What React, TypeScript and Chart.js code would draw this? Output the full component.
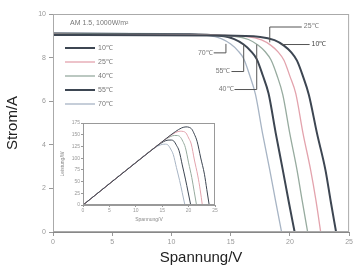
import React, { useEffect, useRef } from "react";
import { Chart, registerables } from "chart.js";
Chart.register(...registerables);

// ---------- data ----------
const tempLabels = ["10℃", "25℃", "40℃", "55℃", "70℃"];
const colors = ["#3d4652", "#e3a3ad", "#97ab9f", "#3d4652", "#a7b4c4"];
const widths = [2, 1.3, 1.3, 2, 1.3];

const v10 = [0, 14, 17.5, 18.7, 19.5, 20.1, 20.6, 21.1, 21.6, 22.3, 23.0, 23.45, 23.9];
const i10 = [9.04, 9.01, 8.95, 8.8, 8.55, 8.25, 7.86, 7.15, 6.3, 4.5, 2.85, 1.4, 0];
const p10 = [0, 126.1, 156.6, 164.6, 166.7, 165.8, 161.9, 150.9, 136.1, 100.4, 65.6, 32.8, 0];

const v25 = [0, 13, 16.4, 17.6, 18.4, 19.0, 19.5, 20.0, 20.5, 21.1, 21.75, 22.2, 22.6];
const i25 = [9.06, 9.03, 8.96, 8.81, 8.56, 8.26, 7.88, 7.15, 6.35, 4.55, 2.85, 1.45, 0];
const p25 = [0, 117.4, 146.9, 155.1, 157.5, 156.9, 153.7, 143.0, 130.2, 96.0, 62.0, 32.2, 0];

const v40 = [0, 12, 15.3, 16.5, 17.3, 17.9, 18.4, 18.9, 19.4, 20.0, 20.6, 21.05, 21.5];
const i40 = [9.08, 9.05, 8.98, 8.83, 8.58, 8.28, 7.9, 7.2, 6.3, 4.5, 2.85, 1.4, 0];
const p40 = [0, 108.6, 137.4, 145.7, 148.4, 148.2, 145.4, 136.1, 122.2, 90.0, 58.7, 29.5, 0];

const v55 = [0, 11, 14.1, 15.3, 16.1, 16.7, 17.2, 17.7, 18.2, 18.8, 19.4, 19.9, 20.4];
const i55 = [9.1, 9.07, 9.0, 8.85, 8.6, 8.3, 7.93, 7.2, 6.35, 4.55, 2.85, 1.4, 0];
const p55 = [0, 99.8, 126.9, 135.4, 138.5, 138.6, 136.4, 127.4, 115.6, 85.5, 55.3, 27.9, 0];

const v70 = [0, 10, 13, 14.2, 15, 15.6, 16.1, 16.6, 17.1, 17.7, 18.3, 18.8, 19.3];
const i70 = [9.12, 9.09, 9.02, 8.87, 8.62, 8.32, 7.95, 7.2, 6.3, 4.5, 2.85, 1.4, 0];
const p70 = [0, 90.9, 117.3, 126.0, 129.3, 129.8, 128.0, 119.5, 107.7, 79.7, 52.2, 26.3, 0];

const xTicks = [0, 5, 10, 15, 20, 25];
const yTicks = [0, 2, 4, 6, 8, 10];
const insetXTicks = [0, 5, 10, 15, 20, 25];
const insetYTicks = [0, 25, 50, 75, 100, 125, 150, 175];

// MPP-label annotations: [label, V, I, side]
const markLabels = ["70℃", "55℃", "40℃", "25℃", "10℃"];
const markV = [14.6, 16.1, 17.2, 18.3, 19.3];
const markI = [8.63, 8.6, 8.6, 8.7, 8.6];
const headerText = "AM 1.5, 1000W/m²";

const seriesV = [v10, v25, v40, v55, v70];
const seriesI = [i10, i25, i40, i55, i70];
const seriesP = [p10, p25, p40, p55, p70];

const FONT = "'Liberation Sans', Arial, sans-serif";

const framePlugin = {
  id: "frame",
  afterDraw(chart: any) {
    const { ctx, chartArea: a } = chart;
    ctx.save();
    ctx.strokeStyle = chart.options.plugins.frame?.color || "#999";
    ctx.lineWidth = 1;
    ctx.strokeRect(a.left + 0.5, a.top + 0.5, a.right - a.left - 1, a.bottom - a.top - 1);
    ctx.restore();
  },
};

const annotPlugin = {
  id: "annot",
  afterDraw(chart: any) {
    const { ctx, chartArea: a, scales } = chart;
    const xs = scales.x, ys = scales.y;
    ctx.save();
    ctx.font = `7px ${FONT}`;
    ctx.fillStyle = "#777";
    ctx.textBaseline = "middle";
    // header
    ctx.fillText(headerText, a.left + 17, a.top + 9);
    // legend
    chart.data.datasets.forEach((ds: any, k: number) => {
      const y = a.top + 34 + k * 14;
      ctx.strokeStyle = ds.borderColor;
      ctx.lineWidth = ds.borderWidth;
      ctx.beginPath();
      ctx.moveTo(a.left + 12, y);
      ctx.lineTo(a.left + 42, y);
      ctx.stroke();
      ctx.fillStyle = "#777";
      ctx.fillText(ds.label, a.left + 45, y);
    });
    // leader labels
    ctx.strokeStyle = "#555";
    ctx.lineWidth = 1;
    const px = markV.map((v) => xs.getPixelForValue(v));
    const py = markI.map((i) => ys.getPixelForValue(i));
    const left: [number, number][] = [
      [px[0] - 28, py[0] + 9],
      [px[1] - 28, py[1] + 27],
      [px[2] - 38, py[2] + 45],
    ];
    left.forEach(([tx, ty], k) => {
      ctx.fillStyle = "#777";
      ctx.textAlign = "left";
      ctx.fillText(markLabels[k], tx, ty);
      const w = ctx.measureText(markLabels[k]).width;
      ctx.beginPath();
      ctx.moveTo(tx + w + 1, ty);
      ctx.lineTo(px[k], ty);
      ctx.lineTo(px[k], py[k]);
      ctx.stroke();
    });
    // right labels
    ctx.beginPath();
    ctx.moveTo(px[3], py[3]);
    ctx.lineTo(px[3], a.top + 13);
    ctx.lineTo(px[3] + 32, a.top + 13);
    ctx.stroke();
    ctx.fillText(markLabels[3], px[3] + 34, a.top + 12);
    ctx.beginPath();
    ctx.moveTo(px[4], py[4]);
    ctx.lineTo(px[4] + 28, py[4]);
    ctx.stroke();
    ctx.fillStyle = "#444";
    ctx.fillText(markLabels[4], px[4] + 30, py[4]);
    ctx.restore();
  },
};

function App() {
  const mainRef = useRef<HTMLCanvasElement>(null);
  const insetRef = useRef<HTMLCanvasElement>(null);

  useEffect(() => {
    const tickFont = { family: FONT, size: 7 };
    const main = new Chart(mainRef.current!, {
      type: "line",
      data: {
        datasets: tempLabels.map((lab, k) => ({
          label: lab,
          data: seriesV[k].map((v, j) => ({ x: v, y: seriesI[k][j] })),
          borderColor: colors[k],
          borderWidth: widths[k],
          pointRadius: 0,
          cubicInterpolationMode: "monotone",
          fill: false,
        })),
      },
      options: {
        animation: false,
        responsive: false,
        maintainAspectRatio: false,
        layout: { padding: { left: 0, right: 2, top: 14, bottom: 0 }, autoPadding: false },
        plugins: { legend: { display: false }, tooltip: { enabled: false }, frame: { color: "#aaa" } } as any,
        scales: {
          x: {
            type: "linear",
            min: 0,
            max: 25,
            afterBuildTicks: (s: any) => { s.ticks = xTicks.map((v) => ({ value: v })); },
            afterFit: (s: any) => { s.height = 38; },
            grid: { drawOnChartArea: false, drawTicks: true, tickLength: 4, color: "#999" },
            border: { color: "#888" },
            ticks: { font: tickFont, color: "#999", padding: 2, maxRotation: 0 },
            title: { display: true, text: "Spannung/V", color: "#222", font: { family: FONT, size: 15 }, padding: { top: 0, bottom: 3 } },
          },
          y: {
            type: "linear",
            min: 0,
            max: 10,
            afterBuildTicks: (s: any) => { s.ticks = yTicks.map((v) => ({ value: v })); },
            afterFit: (s: any) => { s.width = 53; },
            grid: { drawOnChartArea: false, drawTicks: true, tickLength: 4, color: "#999" },
            border: { color: "#888" },
            ticks: { font: tickFont, color: "#999", padding: 3 },
            title: { display: true, text: "Strom/A", color: "#222", font: { family: FONT, size: 15 }, padding: { top: 4, bottom: 0 } },
          },
        },
      } as any,
      plugins: [framePlugin, annotPlugin],
    });

    const smallFont = { family: FONT, size: 5 };
    const inset = new Chart(insetRef.current!, {
      type: "line",
      data: {
        datasets: tempLabels.map((lab, k) => ({
          label: lab,
          data: seriesV[k].map((v, j) => ({ x: v, y: seriesP[k][j] })),
          borderColor: colors[k],
          borderWidth: 1,
          pointRadius: 0,
          cubicInterpolationMode: "monotone",
          fill: false,
        })),
      },
      options: {
        animation: false,
        responsive: false,
        maintainAspectRatio: false,
        layout: { padding: { left: 0, right: 5, top: 8, bottom: 0 }, autoPadding: false },
        plugins: { legend: { display: false }, tooltip: { enabled: false }, frame: { color: "#999" } } as any,
        scales: {
          x: {
            type: "linear",
            min: 0,
            max: 25,
            afterBuildTicks: (s: any) => { s.ticks = insetXTicks.map((v) => ({ value: v })); },
            afterFit: (s: any) => { s.height = 20; },
            grid: { drawOnChartArea: false, drawTicks: true, tickLength: 2, color: "#999" },
            border: { color: "#999" },
            ticks: { font: smallFont, color: "#999", padding: 1, maxRotation: 0 },
            title: { display: true, text: "Spannung/V", color: "#888", font: { family: FONT, size: 5 }, padding: { top: 0, bottom: 2 } },
          },
          y: {
            type: "linear",
            min: 0,
            max: 175,
            afterBuildTicks: (s: any) => { s.ticks = insetYTicks.map((v) => ({ value: v })); },
            afterFit: (s: any) => { s.width = 25; },
            grid: { drawOnChartArea: false, drawTicks: true, tickLength: 2, color: "#999" },
            border: { color: "#999" },
            ticks: { font: smallFont, color: "#999", padding: 1 },
            title: { display: true, text: "Leistung/W", color: "#888", font: { family: FONT, size: 5 }, padding: { top: 2, bottom: 0 } },
          },
        },
      } as any,
      plugins: [framePlugin],
    });

    return () => {
      main.destroy();
      inset.destroy();
    };
  }, []);

  return (
    <div style={{ position: "absolute", left: 0, top: 0, width: 355, height: 270, background: "#fff" }}>
      <canvas ref={mainRef} width={355} height={270} style={{ position: "absolute", left: 0, top: 0, width: 355, height: 270 }} />
      <canvas ref={insetRef} width={162} height={110} style={{ position: "absolute", left: 58, top: 115, width: 162, height: 110, background: "#fff" }} />
    </div>
  );
}

export default App;
